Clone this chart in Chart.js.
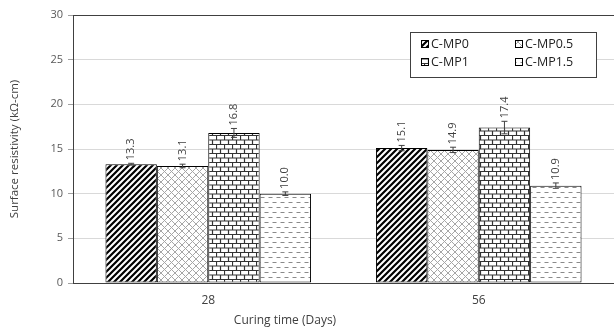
<!DOCTYPE html>
<html>
<head>
<meta charset="utf-8">
<script src="https://cdn.jsdelivr.net/npm/chart.js@4/dist/chart.umd.min.js"></script>
<style>
html,body{margin:0;padding:0;background:#fff;}
#wrap{width:614px;height:331px;position:relative;}
</style>
</head>
<body>
<div id="wrap"><canvas id="c"></canvas></div>
<script>
const categories = ['28', '56'];
const seriesNames = ['C-MP0', 'C-MP0.5', 'C-MP1', 'C-MP1.5'];
const mp0 = [13.3, 15.1];
const mp05 = [13.1, 14.9];
const mp1 = [16.8, 17.4];
const mp15 = [10.0, 10.9];
const err0 = [0.1, 0.3];
const err05 = [0.2, 0.3];
const err1 = [0.5, 0.7];
const err15 = [0.2, 0.3];
const yTicks = [0, 5, 10, 15, 20, 25, 30];
const yTitle = 'Surface resistivity (kΩ-cm)';
const xTitle = 'Curing time (Days)';

function makePattern(w, h, draw) {
  const c = document.createElement('canvas');
  c.width = w; c.height = h;
  const g = c.getContext('2d');
  g.fillStyle = '#fff'; g.fillRect(0, 0, w, h);
  draw(g, w, h);
  return document.getElementById('c').getContext('2d').createPattern(c, 'repeat');
}
const pStripe = makePattern(6, 6, (g) => {
  g.strokeStyle = '#000'; g.lineWidth = 2.2;
  g.beginPath();
  g.moveTo(-1, 7); g.lineTo(7, -1);
  g.moveTo(-4, 4); g.lineTo(4, -4);
  g.moveTo(2, 10); g.lineTo(10, 2);
  g.stroke();
});
const pHatch = makePattern(7, 7, (g) => {
  g.strokeStyle = '#a6a6a6'; g.lineWidth = 1;
  g.beginPath();
  g.moveTo(0, 7); g.lineTo(7, 0);
  g.moveTo(0, 0); g.lineTo(7, 7);
  g.stroke();
});
const pBrick = makePattern(8, 9, (g) => {
  g.strokeStyle = '#333'; g.lineWidth = 1.2;
  g.beginPath();
  g.moveTo(0, 0.5); g.lineTo(8, 0.5);
  g.moveTo(0, 5); g.lineTo(8, 5);
  g.moveTo(0.5, 0); g.lineTo(0.5, 5);
  g.moveTo(4.5, 5); g.lineTo(4.5, 9);
  g.stroke();
});
const pDash = makePattern(8, 10, (g) => {
  g.strokeStyle = '#8a8a8a'; g.lineWidth = 1.2;
  g.beginPath();
  g.moveTo(0.5, 2.5); g.lineTo(4.5, 2.5);
  g.moveTo(4.5, 7.5); g.lineTo(8, 7.5);
  g.moveTo(0, 7.5); g.lineTo(0.5, 7.5);
  g.stroke();
});

const fills = [pStripe, pHatch, pBrick, pDash];
const values = [mp0, mp05, mp1, mp15];
const errs = [err0, err05, err1, err15];

const overlay = {
  id: 'overlay',
  afterDatasetsDraw(chart) {
    const ctx = chart.ctx;
    const y = chart.scales.y;
    chart.data.datasets.forEach((ds, di) => {
      const meta = chart.getDatasetMeta(di);
      meta.data.forEach((bar, i) => {
        const v = ds.data[i], e = errs[di][i];
        const yt = y.getPixelForValue(v + e), yb = y.getPixelForValue(v - e);
        ctx.save();
        ctx.strokeStyle = '#404040'; ctx.lineWidth = 1;
        ctx.beginPath();
        ctx.moveTo(bar.x, yt); ctx.lineTo(bar.x, yb);
        ctx.moveTo(bar.x - 3, yt); ctx.lineTo(bar.x + 3, yt);
        ctx.moveTo(bar.x - 3, yb); ctx.lineTo(bar.x + 3, yb);
        ctx.stroke();
        ctx.translate(bar.x, yt - 3);
        ctx.rotate(-Math.PI / 2);
        ctx.fillStyle = '#404040';
        ctx.font = '11px "Open Sans", sans-serif';
        ctx.textAlign = 'left'; ctx.textBaseline = 'middle';
        ctx.fillText(v.toFixed(1), 0, 0);
        ctx.restore();
      });
    });
  },
  afterDraw(chart) {
    const ctx = chart.ctx;
    ctx.save();
    ctx.fillStyle = '#404040';
    ctx.font = '12px "Open Sans", sans-serif';
    ctx.textAlign = 'center'; ctx.textBaseline = 'middle';
    ctx.fillText(xTitle, 285, 321);
    const bx = 410, by = 32, bw = 186, bh = 45;
    ctx.fillStyle = '#fff';
    ctx.fillRect(bx, by, bw, bh);
    ctx.strokeStyle = '#404040'; ctx.lineWidth = 1;
    ctx.strokeRect(bx + 0.5, by + 0.5, bw, bh);
    const pos = [[425, 44], [519, 44], [425, 62], [519, 62]];
    chart.data.datasets.forEach((ds, i) => {
      const [sx, sy] = pos[i];
      ctx.fillStyle = ds.backgroundColor;
      ctx.fillRect(sx - 4, sy - 4, 8, 8);
      ctx.strokeStyle = '#000'; ctx.lineWidth = 1;
      ctx.strokeRect(sx - 3.5, sy - 3.5, 7, 7);
      ctx.fillStyle = '#222';
      ctx.font = '12.5px "Open Sans", sans-serif';
      ctx.textAlign = 'left'; ctx.textBaseline = 'middle';
      ctx.fillText(ds.label, sx + 6, sy);
    });
    ctx.restore();
  }
};

new Chart(document.getElementById('c'), {
  type: 'bar',
  data: {
    labels: categories,
    datasets: seriesNames.map((n, i) => ({
      label: n,
      data: values[i],
      backgroundColor: fills[i],
      borderColor: '#000',
      borderWidth: 1,
      borderSkipped: false,
      barPercentage: 1.0,
      categoryPercentage: 0.76
    }))
  },
  options: {
    responsive: true,
    maintainAspectRatio: false,
    animation: false,
    layout: { padding: { left: 0, right: 0, top: 15, bottom: 0 } },
    plugins: { legend: { display: false }, tooltip: { enabled: false } },
    scales: {
      x: {
        grid: { display: false, drawTicks: false },
        border: { display: true, color: '#404040', width: 1 },
        ticks: { color: '#404040', font: { family: 'Open Sans', size: 12 }, padding: 10 },
        afterFit(s) { s.height = 48; }
      },
      y: {
        min: 0, max: 30,
        afterBuildTicks(s) { s.ticks = yTicks.map(v => ({ value: v })); },
        grid: {
          color: (c) => c.tick && c.tick.value === 30 ? '#404040' : '#d9d9d9',
          tickColor: '#a0a0a0',
          tickLength: 5,
          lineWidth: 1
        },
        border: { display: true, color: '#404040', width: 1 },
        ticks: { color: '#595959', font: { family: 'Open Sans', size: 11 }, padding: 5 },
        title: {
          display: true, text: yTitle, color: '#404040',
          font: { family: 'Open Sans', size: 11.5 },
          padding: { top: 8, bottom: 0 }
        },
        afterFit(s) { s.width = 73; }
      }
    }
  },
  plugins: [overlay]
});
</script>
</body>
</html>
